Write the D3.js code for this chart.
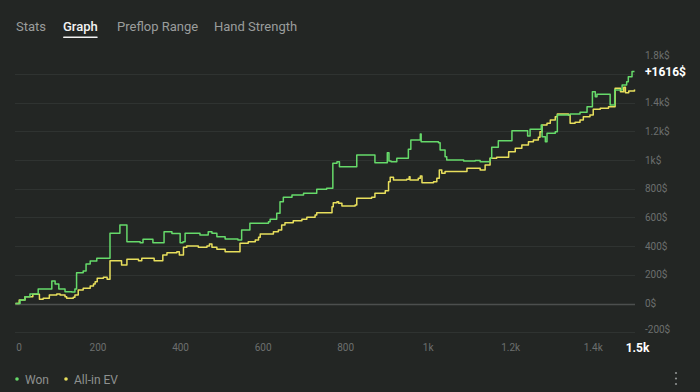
<!DOCTYPE html>
<html><head><meta charset="utf-8">
<script src="https://cdn.jsdelivr.net/npm/d3@7"></script>
<style>
html,body{margin:0;padding:0;background:#232624;}
svg{display:block;font-family:Roboto,"Open Sans",sans-serif;}
</style></head>
<body><svg id="c" width="700" height="392"></svg>
<script>
const tabs = ["Stats","Graph","Preflop Range","Hand Strength"];
const activeTab = "Graph";
const seriesNames = ["Won","All-in EV"];
// [hand, cumulative $] step points
const wonHands = [0,11,23,35,55,88,96,105,120,136,144,148,164,171,181,197,229,253,270,302,309,333,360,379,399,406,411,447,467,476,488,508,539,548,568,613,617,633,641,649,670,698,730,754,769,779,785,827,871,901,905,910,924,952,958,981,983,1025,1029,1041,1045,1086,1114,1126,1150,1154,1170,1203,1241,1247,1274,1276,1284,1288,1308,1313,1344,1368,1385,1398,1405,1409,1441,1452,1470,1481,1485,1494,1500];
const wonValues = [0,24,47,66,101,157,136,101,82,80,101,215,226,275,296,315,489,547,431,424,447,424,500,488,424,431,489,477,500,489,466,449,443,512,559,570,587,629,709,740,756,768,796,803,977,988,953,1035,981,1051,993,988,1012,1075,1139,1181,1128,1121,1070,1023,1000,993,997,988,1012,1089,1135,1204,1167,1214,1244,1162,1128,1186,1197,1314,1321,1332,1371,1476,1441,1458,1383,1488,1523,1546,1581,1616,1616];
const evHands = [0,9,23,42,58,67,82,100,108,120,124,140,144,152,164,181,189,193,198,213,222,229,257,270,298,306,336,357,367,391,397,407,415,443,464,470,476,488,508,544,564,581,589,593,625,637,645,653,673,694,706,726,730,767,770,779,783,791,823,827,863,871,896,904,908,916,948,954,956,976,981,985,1013,1021,1027,1033,1041,1082,1094,1126,1138,1150,1166,1195,1211,1227,1243,1255,1267,1271,1276,1288,1296,1308,1313,1340,1344,1356,1368,1376,1392,1400,1417,1437,1453,1466,1474,1478,1486,1500];
const evValues = [0,24,47,64,29,36,59,66,59,47,36,43,59,94,106,122,136,152,176,183,169,298,268,308,298,315,298,338,354,361,338,392,401,392,401,415,392,378,361,420,431,443,461,484,500,512,547,563,577,587,601,617,633,675,702,709,698,679,686,733,740,768,786,849,879,861,866,884,861,873,889,842,849,873,930,907,919,919,942,930,965,1012,1019,1058,1082,1105,1128,1139,1158,1197,1244,1256,1279,1302,1321,1314,1256,1263,1279,1302,1314,1353,1360,1371,1500,1476,1507,1469,1481,1491];
const xTickValues = [0,200,400,600,800,1000,1200,1400,1500];
const xTickLabels = ["0","200","400","600","800","1k","1.2k","1.4k","1.5k"];
const yTickValues = [-200,0,200,400,600,800,1000,1200,1400,1600,1800];
const yTickLabels = ["-200$","0$","200$","400$","600$","800$","1k$","1.2k$","1.4k$","1.6k$","1.8k$"];
const finalLabel = "+1616$";

const svg = d3.select("#c");
const x = d3.scaleLinear().domain([0,1500]).range([15.5,634.5]);
const y = d3.scaleLinear().domain([0,1600]).range([303.5,73.9]);

// tabs
const tabX = [16,63,117,214];
tabs.forEach((t,i)=>{
  const a = t===activeTab;
  const tx = svg.append("text").attr("x",tabX[i]).attr("y",31)
    .attr("font-size",13).attr("fill",a?"#f2f2f2":"#9a9d9c")
    .attr("font-weight",a?500:400).text(t);
  if(a){
    const bb = tx.node().getBBox();
    svg.append("rect").attr("x",bb.x).attr("y",36.5).attr("width",bb.width).attr("height",1.6)
      .attr("rx",0.8).attr("fill","#f2f2f2");
  }
});

// gridlines
const g = svg.append("g");
yTickValues.filter(v=>v<1800).forEach(v=>{
  g.append("line").attr("x1",15).attr("x2",635).attr("y1",Math.round(y(v))+0.5).attr("y2",Math.round(y(v))+0.5)
    .attr("stroke",v===0?"#4c4f4e":"#2f3331").attr("stroke-width",v===0?1.5:1);
});

// y labels
yTickValues.forEach((v,i)=>{
  if(v===1600) return;
  let yy = y(v);
  if(v===1800) yy = 55;
  if(v===-200) yy = y(v)-3;
  svg.append("text").attr("x",645).attr("y",yy).attr("dy","0.35em")
    .attr("font-size",10).attr("fill","#6c6f6e").text(yTickLabels[i]);
});
svg.append("text").attr("x",645).attr("y",y(wonValues[wonValues.length-1])).attr("dy","0.35em")
  .attr("font-size",12).attr("font-weight",700).attr("fill","#ffffff").text(finalLabel);

// x labels
xTickValues.forEach((v,i)=>{
  const last = i===xTickValues.length-1;
  let xx = x(v);
  if(v===0) xx += 3.5;
  if(last) xx += 3;
  svg.append("text").attr("x",xx).attr("y",last?352:351).attr("text-anchor","middle")
    .attr("font-size",last?12:10).attr("font-weight",last?700:400)
    .attr("fill",last?"#ffffff":"#6c6f6e").text(xTickLabels[i]);
});

// lines
const line = d3.line().x(d=>x(d[0])).y(d=>y(d[1])).curve(d3.curveStepAfter);
const evData = d3.zip(evHands, evValues);
const wonData = d3.zip(wonHands, wonValues);
svg.append("path").datum(evData).attr("d",line).attr("fill","none")
  .attr("stroke","#e8df5c").attr("stroke-width",1.5).attr("stroke-linejoin","round");
svg.append("path").datum(wonData).attr("d",line).attr("fill","none")
  .attr("stroke","#66da6a").attr("stroke-width",1.5).attr("stroke-linejoin","round");

// legend
const legColors = ["#66da6a","#e8df5c"];
const legX = [17,66];
seriesNames.forEach((n,i)=>{
  svg.append("circle").attr("cx",legX[i]).attr("cy",379).attr("r",1.8).attr("fill",legColors[i]);
  svg.append("text").attr("x",legX[i]+8).attr("y",383.5).attr("font-size",12)
    .attr("fill","#8e9190").text(n);
});
// kebab menu
[373,378.5,384].forEach(cy=>{
  svg.append("circle").attr("cx",676).attr("cy",cy).attr("r",1.1).attr("fill","#8e9190");
});
</script></body></html>
